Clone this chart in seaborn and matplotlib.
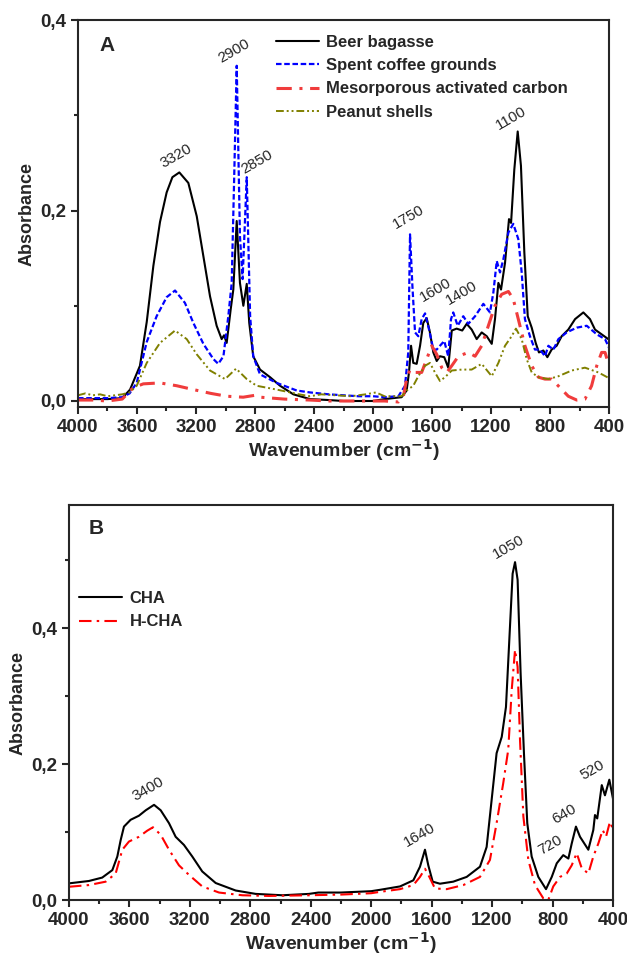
import numpy as np
import pandas as pd
import seaborn as sns
import matplotlib.pyplot as plt
from matplotlib.ticker import MultipleLocator, FuncFormatter

# ---- Panel A spectra (wavenumber, absorbance) ----
beer_wn = [4000, 3900, 3800, 3700, 3647, 3580, 3534, 3489, 3444, 3399, 3360, 3313, 3252, 3195, 3150, 3105,
           3060, 3026, 3010, 2992, 2965, 2947, 2924, 2902, 2879, 2856, 2839, 2812, 2766, 2698, 2630, 2540,
           2427, 2300, 2200, 2100, 2000, 1922, 1806, 1772, 1756, 1742, 1727, 1704, 1681, 1659, 1636, 1614,
           1591, 1568, 1546, 1517, 1490, 1466, 1433, 1395, 1365, 1331, 1297, 1263, 1229, 1195, 1173, 1150,
           1132, 1105, 1078, 1064, 1042, 1019, 997, 974, 951, 924, 897, 875, 845, 818, 789, 755, 721, 676,
           630, 574, 529, 495, 450, 405]
beer_abs = [0.002, 0.002, 0.002, 0.003, 0.012, 0.037, 0.083, 0.142, 0.188, 0.219, 0.235, 0.240, 0.229, 0.194,
            0.152, 0.110, 0.079, 0.065, 0.069, 0.061, 0.096, 0.117, 0.189, 0.124, 0.100, 0.123, 0.082, 0.047,
            0.033, 0.025, 0.016, 0.007, 0.002, 0.001, 0.000, 0.000, 0.000, 0.002, 0.004, 0.011, 0.030, 0.058,
            0.040, 0.039, 0.058, 0.082, 0.087, 0.072, 0.051, 0.042, 0.047, 0.046, 0.035, 0.074, 0.076, 0.074,
            0.081, 0.075, 0.065, 0.072, 0.068, 0.060, 0.086, 0.124, 0.117, 0.145, 0.191, 0.187, 0.243, 0.283,
            0.247, 0.156, 0.089, 0.077, 0.061, 0.051, 0.053, 0.046, 0.054, 0.058, 0.068, 0.075, 0.086, 0.093,
            0.086, 0.075, 0.070, 0.065]

coffee_wn = [4000, 3900, 3800, 3700, 3650, 3602, 3534, 3467, 3399, 3342, 3275, 3218, 3150, 3082, 3049, 3014,
             2981, 2958, 2942, 2924, 2902, 2884, 2856, 2833, 2812, 2766, 2653, 2517, 2427, 2300, 2200, 2100,
             2000, 1922, 1828, 1783, 1761, 1749, 1733, 1715, 1693, 1670, 1647, 1620, 1591, 1568, 1546, 1517,
             1490, 1471, 1456, 1426, 1388, 1354, 1308, 1252, 1207, 1184, 1161, 1139, 1116, 1082, 1049, 1015,
             992, 970, 936, 902, 868, 834, 811, 777, 743, 687, 619, 551, 483, 427, 400]
coffee_abs = [0.003, 0.003, 0.003, 0.004, 0.008, 0.019, 0.062, 0.089, 0.109, 0.116, 0.103, 0.082, 0.060, 0.044,
              0.039, 0.047, 0.089, 0.124, 0.229, 0.352, 0.173, 0.128, 0.235, 0.089, 0.047, 0.028, 0.019, 0.011,
              0.009, 0.007, 0.006, 0.005, 0.005, 0.004, 0.005, 0.016, 0.051, 0.175, 0.121, 0.072, 0.068, 0.086,
              0.092, 0.075, 0.054, 0.054, 0.058, 0.063, 0.047, 0.086, 0.093, 0.079, 0.089, 0.081, 0.089, 0.102,
              0.093, 0.114, 0.147, 0.135, 0.149, 0.177, 0.186, 0.170, 0.135, 0.086, 0.068, 0.054, 0.054, 0.047,
              0.058, 0.054, 0.065, 0.072, 0.077, 0.079, 0.070, 0.065, 0.056]

carbon_wn = [4000, 3900, 3800, 3700, 3625, 3557, 3444, 3330, 3218, 3100, 2992, 2880, 2800, 2766, 2600, 2427,
             2300, 2100, 1922, 1828, 1794, 1772, 1749, 1715, 1670, 1636, 1602, 1568, 1534, 1500, 1466, 1421,
             1354, 1308, 1263, 1218, 1173, 1128, 1082, 1049, 1015, 970, 924, 879, 834, 789, 732, 676, 619,
             563, 518, 483, 450, 427, 400]
carbon_abs = [0.001, 0.001, 0.000, 0.002, 0.014, 0.018, 0.019, 0.016, 0.012, 0.008, 0.005, 0.004, 0.006, 0.004,
              0.002, 0.001, 0.000, 0.000, 0.000, -0.001, 0.005, 0.023, 0.033, 0.030, 0.030, 0.044, 0.058, 0.049,
              0.035, 0.030, 0.037, 0.047, 0.051, 0.047, 0.058, 0.079, 0.100, 0.112, 0.115, 0.107, 0.086, 0.058,
              0.037, 0.025, 0.023, 0.023, 0.014, 0.005, 0.001, 0.002, 0.016, 0.037, 0.051, 0.051, 0.037]

peanut_wn = [4000, 3950, 3900, 3850, 3800, 3750, 3700, 3650, 3602, 3534, 3444, 3342, 3263, 3195, 3105, 3003,
             2928, 2856, 2789, 2653, 2500, 2427, 2350, 2250, 2150, 2050, 1980, 1922, 1806, 1772, 1727, 1693,
             1647, 1614, 1580, 1546, 1512, 1466, 1398, 1331, 1263, 1195, 1150, 1105, 1060, 1031, 992, 958,
             924, 879, 811, 743, 653, 563, 472, 400]
peanut_abs = [0.006, 0.008, 0.006, 0.007, 0.005, 0.006, 0.007, 0.009, 0.016, 0.040, 0.061, 0.074, 0.065, 0.049,
              0.032, 0.023, 0.034, 0.023, 0.016, 0.012, 0.007, 0.005, 0.007, 0.006, 0.005, 0.007, 0.009, 0.005,
              0.005, 0.011, 0.016, 0.026, 0.037, 0.040, 0.030, 0.021, 0.025, 0.032, 0.033, 0.033, 0.039, 0.026,
              0.040, 0.058, 0.068, 0.076, 0.065, 0.044, 0.030, 0.025, 0.023, 0.026, 0.032, 0.035, 0.030, 0.024]

# ---- Panel B spectra ----
cha_wn = [4000, 3868, 3780, 3713, 3680, 3658, 3636, 3592, 3537, 3492, 3437, 3393, 3338, 3294, 3239, 3184,
          3118, 3029, 2897, 2764, 2588, 2412, 2350, 2200, 2000, 1942, 1809, 1721, 1677, 1644, 1622, 1593,
          1545, 1457, 1368, 1280, 1236, 1203, 1170, 1136, 1108, 1086, 1064, 1048, 1031, 1011, 989, 967, 938,
          894, 843, 805, 772, 729, 695, 673, 645, 618, 563, 530, 519, 504, 474, 453, 424, 398]
cha_abs = [0.0245, 0.028, 0.033, 0.044, 0.064, 0.088, 0.108, 0.118, 0.124, 0.132, 0.140, 0.132, 0.113, 0.093,
           0.081, 0.064, 0.042, 0.025, 0.014, 0.009, 0.007, 0.009, 0.011, 0.011, 0.013, 0.015, 0.020, 0.029,
           0.049, 0.074, 0.051, 0.027, 0.024, 0.027, 0.034, 0.049, 0.078, 0.147, 0.216, 0.240, 0.284, 0.382,
           0.480, 0.497, 0.471, 0.333, 0.216, 0.113, 0.064, 0.034, 0.016, 0.034, 0.054, 0.066, 0.061, 0.083,
           0.108, 0.093, 0.074, 0.103, 0.125, 0.120, 0.169, 0.154, 0.177, 0.147]

hcha_wn = [4000, 3868, 3757, 3691, 3647, 3603, 3537, 3482, 3444, 3393, 3338, 3272, 3206, 3118, 3007, 2853,
           2676, 2412, 2200, 2000, 1942, 1809, 1721, 1677, 1644, 1615, 1578, 1500, 1390, 1280, 1214, 1170,
           1126, 1093, 1070, 1048, 1031, 1015, 993, 960, 916, 861, 828, 795, 750, 706, 673, 640, 607, 563,
           530, 497, 468, 446, 420, 398]
hcha_abs = [0.0195, 0.022, 0.027, 0.039, 0.074, 0.086, 0.093, 0.102, 0.107, 0.096, 0.074, 0.051, 0.037, 0.020,
            0.011, 0.007, 0.006, 0.007, 0.008, 0.010, 0.012, 0.016, 0.022, 0.034, 0.046, 0.034, 0.017, 0.016,
            0.022, 0.034, 0.059, 0.113, 0.172, 0.221, 0.309, 0.368, 0.343, 0.235, 0.123, 0.059, 0.022, 0.0025,
            0.000, 0.020, 0.034, 0.039, 0.051, 0.069, 0.047, 0.039, 0.064, 0.083, 0.103, 0.093, 0.115, 0.103]

# peak labels: (text, wavenumber, absorbance)
peaks_a = [("3320", 3336, 0.257), ("2900", 2942, 0.367), ("2850", 2786, 0.251), ("1750", 1756, 0.193),
           ("1600", 1573, 0.116), ("1400", 1397, 0.113), ("1100", 1064, 0.297)]
peaks_b = [("3400", 3477, 0.163), ("1640", 1677, 0.096), ("1050", 1088, 0.519), ("720", 817, 0.081),
           ("640", 724, 0.126), ("520", 539, 0.191)]

sns.set_style("ticks")
plt.rcParams['font.family'] = ['Liberation Sans', 'DejaVu Sans']

fig = plt.figure(figsize=(6.27, 9.59), dpi=100)
ax_a = fig.add_axes([0.1244, 0.5756, 0.8469, 0.4035])
ax_b = fig.add_axes([0.1100, 0.0615, 0.8676, 0.4119])

series_a = [
    ("Beer bagasse", beer_wn, beer_abs, "black", "-", 1.5),
    ("Spent coffee grounds", coffee_wn, coffee_abs, "#0000ff", (0, (2.5, 1.2)), 1.6),
    ("Mesorporous activated carbon", carbon_wn, carbon_abs, "#f03c3c", (0, (5, 2.5, 1, 2.5)), 2.2),
    ("Peanut shells", peanut_wn, peanut_abs, "#808000", (0, (4, 1.5, 1, 1.5, 1, 1.5)), 1.4),
]
series_b = [
    ("CHA", cha_wn, cha_abs, "black", "-", 1.5),
    ("H-CHA", hcha_wn, hcha_abs, "#ff0000", (0, (6, 2.5, 1.2, 2.5)), 1.5),
]

for ax, series in [(ax_a, series_a), (ax_b, series_b)]:
    for name, wn, ab, col, ls, lw in series:
        df = pd.DataFrame({"wavenumber": wn, "absorbance": ab})
        sns.lineplot(data=df, x="wavenumber", y="absorbance", ax=ax, color=col,
                     linestyle=ls, linewidth=lw, label=name, estimator=None, sort=False)

comma = FuncFormatter(lambda v, p: f"{v:.1f}".replace(".", ","))

for ax in (ax_a, ax_b):
    ax.set_xlim(4000, 400)
    ax.xaxis.set_major_locator(MultipleLocator(400))
    ax.xaxis.set_minor_locator(MultipleLocator(200))
    ax.yaxis.set_major_locator(MultipleLocator(0.2))
    ax.yaxis.set_minor_locator(MultipleLocator(0.1))
    ax.yaxis.set_major_formatter(comma)
    ax.tick_params(which="major", direction="out", length=5, width=1.5, labelsize=13.5)
    ax.tick_params(which="minor", direction="out", length=3, width=1.5)
    for lab in ax.get_xticklabels() + ax.get_yticklabels():
        lab.set_fontweight("bold")
    for sp in ax.spines.values():
        sp.set_visible(True)
        sp.set_linewidth(1.5)
    ax.set_xlabel("Wavenumber (cm$^{\\mathbf{-1}}$)", fontsize=14, fontweight="bold", labelpad=1)
    ax.set_ylabel("Absorbance", fontsize=13, fontweight="bold", labelpad=3)

ax_a.set_ylim(-0.0063, 0.4)
ax_b.set_ylim(0, 0.581)

for ax, peaks in [(ax_a, peaks_a), (ax_b, peaks_b)]:
    for txt, wx, wy in peaks:
        ax.text(wx, wy, txt, rotation=30, fontsize=11, ha="center", va="center")

ax_a.text(0.054, 0.935, "A", transform=ax_a.transAxes, fontsize=15, fontweight="bold", ha="center", va="center")
ax_b.text(0.050, 0.94, "B", transform=ax_b.transAxes, fontsize=15, fontweight="bold", ha="center", va="center")

leg_a = ax_a.legend(loc="upper left", bbox_to_anchor=(0.372, 0.962), frameon=False, borderpad=0,
                    borderaxespad=0, handlelength=2.6, handletextpad=0.45, labelspacing=0.5,
                    prop={"size": 12, "weight": "bold"})
leg_b = ax_b.legend(loc="upper left", bbox_to_anchor=(0.018, 0.782), frameon=False, borderpad=0,
                    borderaxespad=0, handlelength=2.6, handletextpad=0.45, labelspacing=0.5,
                    prop={"size": 12, "weight": "bold"})

fig.savefig("out.png", dpi=100)
